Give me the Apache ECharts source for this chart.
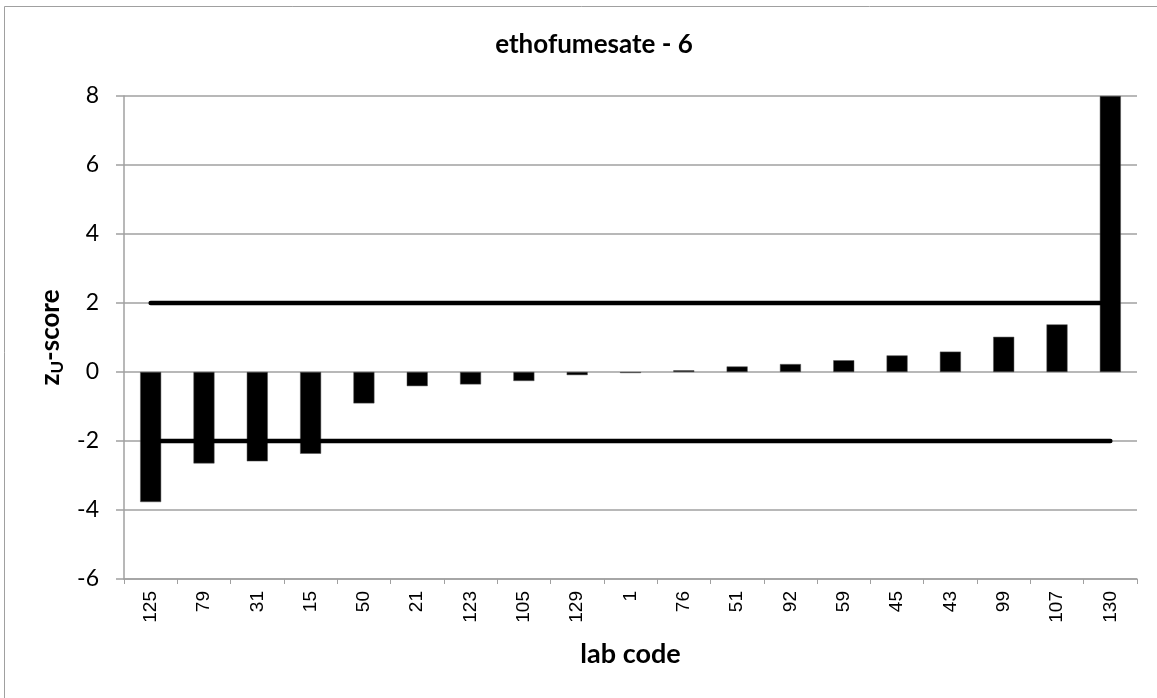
<!DOCTYPE html>
<html>
<head>
<meta charset="utf-8">
<script src="https://cdn.jsdelivr.net/npm/echarts@6/dist/echarts.min.js"></script>
<style>
html,body{margin:0;padding:0;background:#fff;}
#chart{width:1157px;height:698px;}
</style>
</head>
<body>
<div id="chart"></div>
<script>
const labCodes = ['125','79','31','15','50','21','123','105','129','1','76','51','92','59','45','43','99','107','130'];
const zScores = [-3.77,-2.65,-2.59,-2.37,-0.91,-0.41,-0.36,-0.26,-0.09,-0.03,0.05,0.16,0.23,0.34,0.48,0.59,1.02,1.38,8.0];
const upperLimit = labCodes.map(() => 2);
const lowerLimit = labCodes.map(() => -2);
const yTicks = { min: -6, max: 8, interval: 2 };
const chartTitle = 'ethofumesate - 6';
const xName = 'lab code';

const chart = echarts.init(document.getElementById('chart'), null, {renderer: 'canvas'});
const gray = '#a0a0a0';
chart.setOption({
  animation: false,
  backgroundColor: '#fff',
  title: {
    text: chartTitle,
    left: 589, top: 27, textAlign: 'center',
    textStyle: {fontFamily: 'Lato', fontWeight: 'bold', fontSize: 26, color: '#000'}
  },
  graphic: [{
    type: 'rect', shape: {x: 4.5, y: 6.5, width: 1160, height: 700},
    style: {fill: null, stroke: '#a0a0a0', lineWidth: 1}, silent: true
  }],
  grid: {left: 124, right: 20, top: 96, bottom: 119},
  xAxis: [{
    type: 'category', data: labCodes, position: 'bottom',
    name: xName, nameLocation: 'middle', nameGap: 62,
    nameTextStyle: {fontFamily: 'Lato', fontWeight: 'bold', fontSize: 27, color: '#000'},
    axisLine: {show: false}, axisTick: {show: false},
    axisLabel: {rotate: 90, fontFamily: 'Liberation Sans', fontSize: 19, color: '#000', margin: 12, interval: 0}
  }, {
    type: 'category', data: labCodes, position: 'bottom',
    axisLine: {show: true, onZero: true, lineStyle: {color: gray, width: 1.5}},
    axisTick: {show: true, length: 5, lineStyle: {color: gray, width: 1}},
    axisLabel: {show: false}
  }],
  yAxis: {
    type: 'value', min: yTicks.min, max: yTicks.max, interval: yTicks.interval,
    name: '{a|z}{b|U}{a|-score}', nameLocation: 'middle', nameGap: 55, nameRotate: 90,
    nameTextStyle: {
      rich: {
        a: {fontFamily: 'Lato', fontWeight: 'bold', fontSize: 26, lineHeight: 32, color: '#000', verticalAlign: 'middle'},
        b: {fontFamily: 'Lato', fontWeight: 'bold', fontSize: 17, lineHeight: 17, color: '#000', verticalAlign: 'bottom'}
      }
    },
    axisLine: {show: true, lineStyle: {color: gray, width: 1.5}},
    axisTick: {show: true, length: 8, lineStyle: {color: gray, width: 1.5}},
    axisLabel: {fontFamily: 'Lato', fontSize: 23, color: '#000', margin: 25},
    splitLine: {lineStyle: {color: gray, width: 1.5}}
  },
  series: [{
    type: 'bar', data: zScores, barWidth: 21, xAxisIndex: 0,
    itemStyle: {color: '#000', borderColor: '#555', borderWidth: 0.5},
    clip: true, z: 2
  }, {
    type: 'line', data: upperLimit, xAxisIndex: 0, showSymbol: false, symbol: 'none',
    lineStyle: {color: '#000', width: 4.5, cap: 'round'}, z: 3
  }, {
    type: 'line', data: lowerLimit, xAxisIndex: 0, showSymbol: false, symbol: 'none',
    lineStyle: {color: '#000', width: 4.5, cap: 'round'}, z: 3
  }]
});
</script>
</body>
</html>
